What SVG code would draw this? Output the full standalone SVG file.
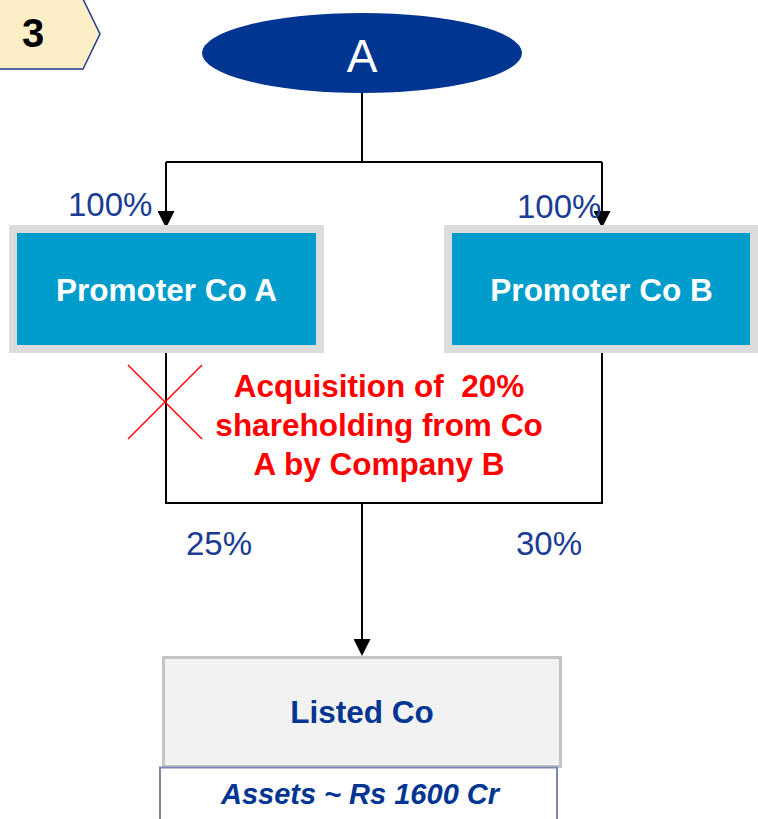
<svg xmlns="http://www.w3.org/2000/svg" width="758" height="819" viewBox="0 0 758 819">
<style>
  .conn { fill: none; stroke: #000; stroke-width: 2; }
  .pct { font-family: "Liberation Sans", Arial, sans-serif; font-size: 33px; fill: #1A3C93; }
  .prom rect { fill: #009DCC; stroke: #DCDCDC; stroke-width: 8; }
  .prom text { font-family: "Liberation Sans", Arial, sans-serif; font-size: 31.5px; font-weight: bold; fill: #fff; text-anchor: middle; }
  .red { font-family: "Liberation Sans", Arial, sans-serif; font-size: 31.5px; font-weight: bold; fill: #FF0000; text-anchor: middle; white-space: pre; }
</style>
<defs>
  <marker id="arr" markerUnits="userSpaceOnUse" markerWidth="17" markerHeight="17" refX="13" refY="8.5" orient="auto">
    <path d="M0,0 L17,8.5 L0,17 z" fill="#000"/>
  </marker>
</defs>
<rect width="758" height="819" fill="#fff"/>

<g id="badge">
  <polygon points="-2,-1 83,-1 100,34 83,69 -2,69" fill="#FCEEC6" stroke="#1F3B8C" stroke-width="1.5"/>
  <text x="33" y="47" font-family="Liberation Sans, Arial, sans-serif" font-size="40" font-weight="bold" fill="#000" text-anchor="middle">3</text>
</g>

<g id="connectors">
  <path class="conn" d="M362,93 V162"/>
  <path class="conn" d="M166,162 H602"/>
  <path class="conn" d="M166,162 V224" marker-end="url(#arr)"/>
  <path class="conn" d="M602,162 V224" marker-end="url(#arr)"/>
  <path class="conn" d="M166,353 V503 H602 V353"/>
  <path class="conn" d="M362,503 V652" marker-end="url(#arr)"/>
</g>

<g id="nodeA">
  <ellipse cx="362" cy="53" rx="160" ry="40" fill="#003591"/>
  <text x="362" y="72" font-family="Liberation Sans, Arial, sans-serif" font-size="46" fill="#fff" text-anchor="middle">A</text>
</g>

<g id="promoterA" class="prom">
  <rect x="13" y="229" width="307" height="120"/>
  <text x="166.5" y="301">Promoter Co A</text>
</g>
<g id="promoterB" class="prom">
  <rect x="448" y="229" width="306" height="120"/>
  <text x="601.5" y="301">Promoter Co B</text>
</g>

<g id="labels">
  <text class="pct" x="68" y="216">100%</text>
  <text class="pct" x="517" y="218">100%</text>
  <text class="pct" x="186" y="555">25%</text>
  <text class="pct" x="516" y="555">30%</text>
</g>

<g id="crossMark">
  <line x1="128" y1="365" x2="202" y2="439" stroke="#FF0000" stroke-width="1.5"/>
  <line x1="202" y1="365" x2="128" y2="439" stroke="#FF0000" stroke-width="1.5"/>
</g>

<g id="note">
  <text class="red" x="379" y="397">Acquisition of  20%</text>
  <text class="red" x="379" y="436">shareholding from Co</text>
  <text class="red" x="379" y="475">A by Company B</text>
</g>

<g id="listedCo">
  <rect x="163.5" y="657.5" width="397" height="109" fill="#F2F2F2" stroke="#C4C4C4" stroke-width="3"/>
  <text x="362" y="723" font-family="Liberation Sans, Arial, sans-serif" font-size="31.5" font-weight="bold" fill="#003591" text-anchor="middle">Listed Co</text>
</g>
<g id="assets">
  <rect x="160" y="767.5" width="397" height="60" fill="#fff" stroke="#7C86AE" stroke-width="2"/>
  <text x="360" y="804" font-family="Liberation Sans, Arial, sans-serif" font-size="29" font-weight="bold" font-style="italic" fill="#003591" text-anchor="middle">Assets ~ Rs 1600 Cr</text>
</g>
</svg>
